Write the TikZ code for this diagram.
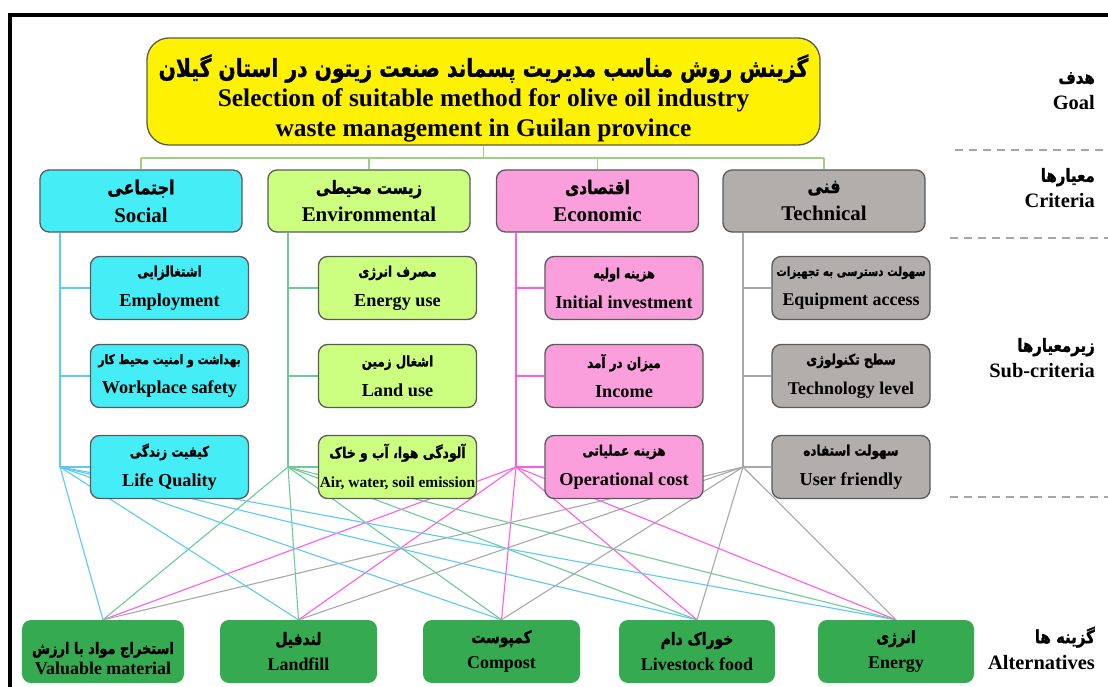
\documentclass[tikz,border=0pt]{standalone}
\usepackage{fontspec}
\setmainfont{Liberation Serif}
\newfontfamily\fa[Script=Arabic, FakeStretch=0.82, BoldFeatures={FakeBold=1.2}]{DejaVu Sans}
\TeXXeTstate=1
\usetikzlibrary{backgrounds}
\newcommand\fatx[2]{{\fa\bfseries\fontsize{#1}{#1}\selectfont #2}}
\newcommand\entx[2]{{\bfseries\fontsize{#1}{#1}\selectfont #2}}
\definecolor{socfill}{HTML}{45EEF6}
\definecolor{envfill}{HTML}{CCFF80}
\definecolor{ecofill}{HTML}{FA9EDC}
\definecolor{techfill}{HTML}{B2AEAB}
\definecolor{altfill}{HTML}{35AA50}
\definecolor{socline}{HTML}{5CC9F5}
\definecolor{envline}{HTML}{6CCB98}
\definecolor{ecoline}{HTML}{FF5BEA}
\definecolor{techline}{HTML}{A8A8A8}
\definecolor{busline}{HTML}{9CD27F}
\definecolor{boxedge}{HTML}{5A5A5A}
\tikzset{
  boxbase/.style={rounded corners=9bp, draw=boxedge, line width=1.3bp, align=center, inner sep=0pt, font=\fontsize{14}{28}\selectfont},
  goalbox/.style={boxbase, fill=yellow, rounded corners=22bp, minimum width=673bp, minimum height=107bp, font=\fontsize{14}{30}\selectfont},
  critbox/.style={boxbase, minimum width=202bp, minimum height=62bp},
  subbox/.style={boxbase, minimum width=158bp, minimum height=63bp, font=\fontsize{14}{30}\selectfont},
  altbox/.style={rounded corners=9bp, fill=altfill, draw=none, minimum width=157bp, minimum height=63bp, align=center, inner sep=0pt, font=\fontsize{14}{26}\selectfont},
  sidelab/.style={anchor=east, align=right, inner sep=0pt, font=\fontsize{14}{26}\selectfont},
  conn/.style={line width=1.1bp},
  dashrule/.style={draw=gray!70, line width=1.8bp, dash pattern=on 8bp off 6bp}
}
\begin{document}
\begin{tikzpicture}[x=1bp,y=-1bp]
\useasboundingbox (0,0) rectangle (1108,687);
\draw[line width=3.5bp] (10,687) -- (10,15) -- (1108,15);

% goal
\node[goalbox] (goal) at (483.5,91.5) {\rule{0pt}{36bp}\fatx{24.8}{\beginR گزینش روش مناسب مدیریت پسماند صنعت زیتون در استان گیلان\endR}\\ \entx{25.5}{Selection of suitable method for olive oil industry}\\ \entx{25.5}{waste management in Guilan province}};

% criteria
\node[critbox, fill=socfill] (soc) at (141,201) {\fatx{19.5}{\beginR اجتماعی\endR}\\ \entx{21}{Social}};
\node[critbox, fill=envfill] (env) at (369,201) {\fatx{18.3}{\beginR زیست محیطی\endR}\\ \entx{21}{Environmental}};
\node[critbox, fill=ecofill] (eco) at (597.5,201) {\fatx{18.9}{\beginR اقتصادی\endR}\\ \entx{21}{Economic}};
\node[critbox, fill=techfill] (tech) at (824,201) {\fatx{19.5}{\beginR فنی\endR}\\ \entx{21}{Technical}};

% sub-criteria
\node[subbox, fill=socfill] (s11) at (169.5,288) {\fatx{14.6}{\beginR اشتغالزایی\endR}\\ \entx{18.3}{Employment}};
\node[subbox, fill=socfill] (s12) at (169.5,376) {\fatx{13.2}{\beginR بهداشت و امنیت محیط کار\endR}\\ \entx{18.3}{Workplace safety}};
\node[subbox, fill=socfill] (s13) at (169.5,467) {\fatx{14.6}{\beginR کیفیت زندگی\endR}\\ \entx{18.3}{Life Quality}};
\node[subbox, fill=envfill] (s21) at (397.5,288) {\fatx{14.6}{\beginR مصرف انرژی\endR}\\ \entx{18.3}{Energy use}};
\node[subbox, fill=envfill] (s22) at (397.5,376) {\fatx{14.6}{\beginR اشغال زمین\endR}\\ \entx{18.3}{Land use}};
\node[subbox, fill=envfill] (s23) at (397.5,467) {\fatx{15.2}{\beginR آلودگی هوا، آب و خاک\endR}\\ \entx{15.5}{Air, water, soil emission}};
\node[subbox, fill=ecofill] (s31) at (624,288) {\fatx{14}{\beginR هزینه اولیه\endR}\\ \entx{18.3}{Initial investment}};
\node[subbox, fill=ecofill] (s32) at (624,376) {\fatx{14.6}{\beginR میزان در آمد\endR}\\ \entx{18.3}{Income}};
\node[subbox, fill=ecofill] (s33) at (624,467) {\fatx{14.6}{\beginR هزینه عملیاتی\endR}\\ \entx{18.3}{Operational cost}};
\node[subbox, fill=techfill] (s41) at (851,288) {\fatx{12.7}{\beginR سهولت دسترسی به تجهیزات\endR}\\ \entx{18}{Equipment access}};
\node[subbox, fill=techfill] (s42) at (851,376) {\fatx{14.6}{\beginR سطح تکنولوژی\endR}\\ \entx{18}{Technology level}};
\node[subbox, fill=techfill] (s43) at (851,467) {\fatx{14.6}{\beginR سهولت استفاده\endR}\\ \entx{18.3}{User friendly}};

% alternatives
\node[altbox, minimum width=162bp, font=\fontsize{14}{21}\selectfont] (a1) at (103,651.5) {\rule{0pt}{26bp}\fatx{15.9}{\beginR استخراج مواد با ارزش\endR}\\ \entx{18}{Valuable material}};
\node[altbox] (a2) at (298.5,651.5) {\fatx{17}{\beginR لندفیل\endR}\\ \entx{18}{Landfill}};
\node[altbox] (a3) at (501.5,651.5) {\fatx{17}{\beginR کمپوست\endR}\\ \entx{18}{Compost}};
\node[altbox, minimum width=156bp] (a4) at (697,651.5) {\fatx{17}{\beginR خوراک دام\endR}\\ \entx{18}{Livestock food}};
\node[altbox, minimum width=156bp] (a5) at (896,651.5) {\fatx{17}{\beginR انرژی\endR}\\ \entx{18}{Energy}};

% side labels
\node[sidelab] (lgoal) at (1095,91) {\fatx{18.3}{\beginR هدف\endR}\\ \entx{20.5}{Goal}};
\node[sidelab] (lcrit) at (1095,188) {\fatx{18.3}{\beginR معیارها\endR}\\ \entx{20.5}{Criteria}};
\node[sidelab] (lsub) at (1095,358) {\fatx{18.3}{\beginR زیرمعیارها\endR}\\ \entx{20.5}{Sub-criteria}};
\node[sidelab] (lalt) at (1095,648) {\fatx{18.3}{\beginR گزینه ها\endR}\\ \entx{20.5}{Alternatives}};
\draw[dashrule] (955,150) -- (1108,150);
\draw[dashrule] (950,238) -- (1108,238);
\draw[dashrule] (950,497) -- (1108,497);

% hubs
\coordinate (bus) at (0,158);
\coordinate (h1) at (60,467);
\coordinate (h2) at (288,467);
\coordinate (h3) at (516,467);
\coordinate (h4) at (743,467);

\begin{scope}[on background layer]
  \fill[white] (0,0) rectangle (1108,687);
  \draw[conn, busline] (goal.south) -- (goal.south |- bus);
  \draw[conn, busline] (soc.north |- bus) -- (tech.north |- bus);
  \foreach \c in {soc,env,eco,tech} \draw[conn, busline] (\c.north |- bus) -- (\c.north);
  % column trunks and branches
  \draw[conn, socline] (soc.south -| h1) -- (h1);
  \draw[conn, envline] (env.south -| h2) -- (h2);
  \draw[conn, ecoline] (eco.south -| h3) -- (h3);
  \draw[conn, techline] (tech.south -| h4) -- (h4);
  \foreach \s in {s11,s12,s13} \draw[conn, socline] (h1 |- \s.west) -- (\s.west);
  \foreach \s in {s21,s22,s23} \draw[conn, envline] (h2 |- \s.west) -- (\s.west);
  \foreach \s in {s31,s32,s33} \draw[conn, ecoline] (h3 |- \s.west) -- (\s.west);
  \foreach \s in {s41,s42,s43} \draw[conn, techline] (h4 |- \s.west) -- (\s.west);
  % hubs to alternatives
  \foreach \a in {a1,a2,a3,a4,a5} {
    \draw[conn, socline] (h1) -- (\a.north);
    \draw[conn, envline] (h2) -- (\a.north);
    \draw[conn, ecoline] (h3) -- (\a.north);
    \draw[conn, techline] (h4) -- (\a.north);
  }
\end{scope}
\end{tikzpicture}
\end{document}
